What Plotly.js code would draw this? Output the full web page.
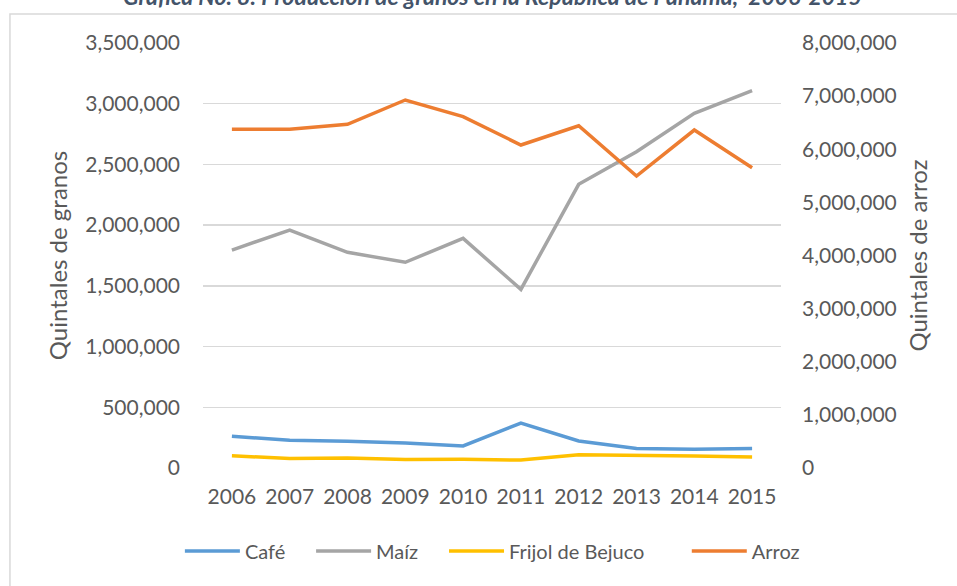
<!DOCTYPE html>
<html>
<head>
<meta charset="utf-8">
<script src="https://cdn.plot.ly/plotly-3.0.1.min.js"></script>
<style>html,body{margin:0;padding:0;background:#fff;}#chart{width:957px;height:586px;}</style>
</head>
<body>
<div id="chart"></div>
<script>
const years = ['2006','2007','2008','2009','2010','2011','2012','2013','2014','2015'];
const cafe = [261000,228000,220000,206000,182000,370000,223000,160000,155000,160000];
const maiz = [1795000,1960000,1776000,1694000,1891000,1471000,2336000,2605000,2921000,3107000];
const frijol = [100000,79000,82000,71000,73000,65000,109000,106000,98000,90000];
const arroz = [6376000,6376000,6470000,6927000,6613000,6080000,6443000,5496000,6362000,5653000];
const seriesNames = ['Café','Maíz','Frijol de Bejuco','Arroz'];
const seriesColors = ['#5B9BD5','#A5A5A5','#FFC000','#ED7D31'];
const leftTicks = [0,500000,1000000,1500000,2000000,2500000,3000000,3500000];
const rightTicks = [0,1000000,2000000,3000000,4000000,5000000,6000000,7000000,8000000];
const titleText = '<b><i>Gráfica No. 8: Producción de granos en la República de Panamá,  2006-2015</i></b>';

const FONT = 'Lato, "Open Sans", sans-serif';
const legendX = [-0.040, 0.187, 0.417, 0.837];
const values = [cafe, maiz, frijol, arroz];
const traces = values.map((v, i) => ({
  x: years, y: v, type: 'scatter', mode: 'lines', name: seriesNames[i],
  yaxis: i === 3 ? 'y2' : 'y',
  line: {color: seriesColors[i], width: 3.5},
  showlegend: true,
  legend: i === 0 ? 'legend' : 'legend' + (i + 1)
}));
const legendBase = {orientation: 'h', xanchor: 'left', yanchor: 'middle', y: -0.195,
  font: {family: FONT, size: 20, color: '#595959'}, itemwidth: 55, bgcolor: 'rgba(0,0,0,0)'};
const layout = {
  width: 957, height: 586,
  showlegend: true,
  margin: {l: 203, r: 176, t: 43, b: 118},
  paper_bgcolor: '#fff', plot_bgcolor: '#fff',
  font: {family: FONT, color: '#595959', size: 20},
  xaxis: {type: 'category', range: [-0.5, 9.5], showgrid: false, zeroline: false, showline: false,
    ticks: '', tickfont: {size: 21, color: '#595959'}, ticklabelstandoff: 14},
  yaxis: {range: [0, 3500000], tickvals: leftTicks, tickformat: ',d', showgrid: true, gridcolor: '#D9D9D9', gridwidth: 1.3,
    zeroline: false, showline: false, ticks: '', tickfont: {size: 21, color: '#595959'}, ticklabelstandoff: 22,
    title: {text: 'Quintales de granos', font: {size: 24, color: '#595959'}, standoff: 10}},
  yaxis2: {range: [0, 8000000], tickvals: rightTicks, tickformat: ',d', overlaying: 'y', side: 'right', showgrid: false,
    zeroline: false, showline: false, ticks: '', tickfont: {size: 21, color: '#595959'}, ticklabelstandoff: 20,
    title: {text: 'Quintales de arroz', font: {size: 24, color: '#595959'}, standoff: 14}},
  legend: Object.assign({}, legendBase, {x: legendX[0]}),
  legend2: Object.assign({}, legendBase, {x: legendX[1]}),
  legend3: Object.assign({}, legendBase, {x: legendX[2]}),
  legend4: Object.assign({}, legendBase, {x: legendX[3]}),
  shapes: [{type: 'rect', xref: 'paper', yref: 'paper', x0: -0.334, x1: 2, y0: -1, y1: 1.068,
    line: {color: '#D9D9D9', width: 1.5}, fillcolor: 'rgba(0,0,0,0)', layer: 'below'}],
  annotations: [{text: titleText, xref: 'paper', yref: 'paper', x: 0.5, y: 1.073, xanchor: 'center', yanchor: 'bottom',
    showarrow: false, font: {family: FONT, size: 23, color: '#44546A'}}]
};
Plotly.newPlot('chart', traces, layout, {displayModeBar: false, staticPlot: true});
</script>
</body>
</html>
